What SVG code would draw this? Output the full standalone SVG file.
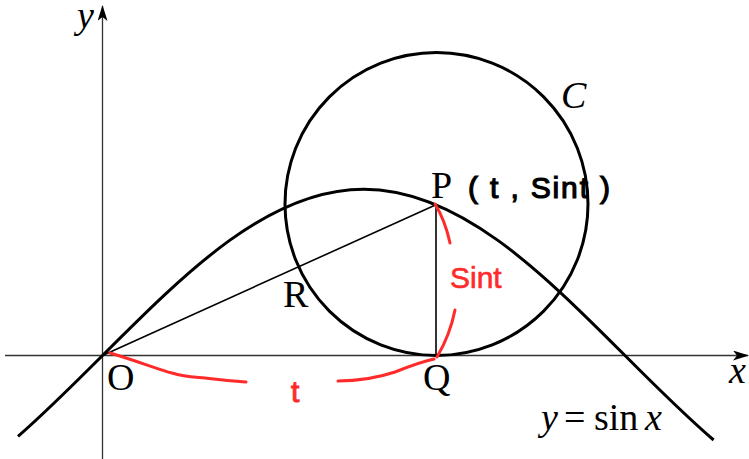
<svg xmlns="http://www.w3.org/2000/svg" width="749" height="459" viewBox="0 0 749 459">
<style>
.ax{stroke:#333;stroke-width:1.3;fill:none}
.curve{stroke:#000;stroke-width:3;fill:none}
.thin{stroke:#000;stroke-width:1.6;fill:none}
.red{stroke:#ff2a2a;stroke-width:3;fill:none;stroke-linecap:round;stroke-linejoin:round}
.lbl{font-family:"Liberation Serif",serif;font-size:38px;fill:#000}
.it{font-style:italic}
.hand{font-family:"Liberation Sans",sans-serif;font-size:30px}
</style>
<defs>
<marker id="arr" viewBox="0 0 16 10" markerWidth="16" markerHeight="10" refX="15" refY="5" orient="auto" markerUnits="userSpaceOnUse">
<path d="M0,0 L16,5 L0,10 L4,5 Z" fill="#000"/>
</marker>
</defs>
<g id="axes">
<line class="ax" x1="5" y1="355.5" x2="748" y2="355.5" marker-end="url(#arr)"/>
<line class="ax" x1="102.5" y1="459" x2="102.5" y2="6" marker-end="url(#arr)"/>
<text class="lbl it" x="729" y="383" font-size="36">x</text>
<text class="lbl it" x="77" y="28" font-size="31">y</text>
</g>
<g id="sine">
<path class="curve" d="M18,436.4 C46.2,411.8 74.3,383.7 102.5,355.5 C187.7,270.3 269.2,189.2 363.7,189.2 C458.3,189.2 539.8,270.3 625,355.5 C654.5,385.1 684.1,414.6 713.6,440"/>
<text class="lbl" y="430"><tspan class="it" x="541">y</tspan><tspan x="564">=</tspan><tspan x="594">sin</tspan><tspan class="it" x="645">x</tspan></text>
</g>
<g id="circleC">
<circle class="curve" cx="436.5" cy="204" r="151.5" stroke-width="2.6"/>
<text class="lbl it" x="561" y="108">C</text>
</g>
<g id="connectors">
<line class="thin" x1="102.5" y1="355.5" x2="436" y2="204.7"/>
<line class="thin" x1="436" y1="204.7" x2="436" y2="355.5"/>
</g>
<g id="nodeO"><text class="lbl" x="107" y="390">O</text></g>
<g id="nodeQ"><text class="lbl" x="423" y="390">Q</text></g>
<g id="nodeR"><text class="lbl" x="283" y="307">R</text></g>
<g id="nodeP">
<text class="lbl" x="431" y="198">P</text>
<text class="hand" x="468" y="198" font-size="32" stroke="#000" stroke-width="1.2" textLength="142" lengthAdjust="spacing">( t , Sint )</text>
</g>
<g id="annotations">
<path class="red" d="M435,204 Q445,220 450,243"/>
<path class="red" d="M455,310 Q450,335 437,357"/>
<path class="red" d="M110,353 C140,362 160,370 172,373 C185,377 195,377 205,378 C220,380 235,381 246,382"/>
<path class="red" d="M338,381 C360,381 380,377 395,372 C410,366 420,362 434,359"/>
<text class="hand" x="450" y="288" fill="#ff2a2a" stroke="#ff2a2a" stroke-width="0.6">Sint</text>
<text class="hand" x="291" y="402" font-size="44" fill="#ff2a2a" stroke="#ff2a2a" stroke-width="1">t</text>
</g>
</svg>
